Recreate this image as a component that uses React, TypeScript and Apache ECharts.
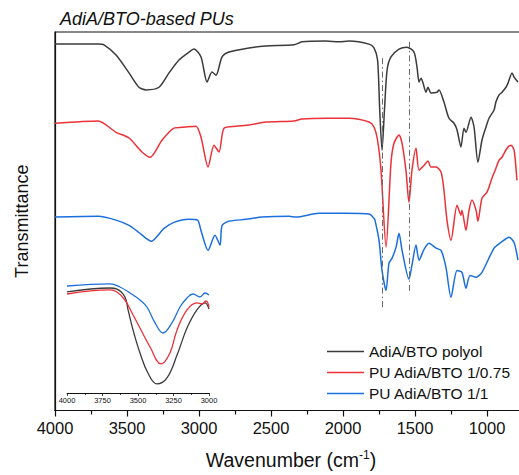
import React, { useEffect, useRef } from "react";
import * as echarts from "echarts";

const chartTitle = "AdiA/BTO-based PUs";
const seriesNames = ["AdiA/BTO polyol", "PU AdiA/BTO 1/0.75", "PU AdiA/BTO 1/1"];
const seriesColors = ["#3b3b3b", "#ec3138", "#1b6fdc"];

// [wavenumber (cm-1), transmittance (a.u., offset)]
const polyol: number[][] = [
  [4000, 96.8], [3700, 96.8], [3660, 96.6], [3576, 93.9], [3486, 89.2], [3417, 85.4], [3368, 84.7],
  [3278, 85.4], [3208, 89.2], [3139, 92.6], [3069, 94.7], [3035, 95.5], [2986, 93.4], [2944, 86.8],
  [2910, 89.4], [2882, 88.6], [2840, 93.4], [2792, 94.7], [2653, 95.8], [2535, 96.3], [2340, 96.6],
  [2285, 97.4], [2118, 97.6], [2028, 97.4], [1958, 97.6], [1819, 96.8], [1785, 95.8], [1760, 92.6],
  [1745, 79.4], [1729, 68.8], [1712, 79.4], [1694, 89.9], [1667, 93.4], [1611, 95.5], [1556, 96.0],
  [1507, 94.7], [1486, 90.7], [1472, 86.8], [1458, 87.8], [1444, 86.5], [1424, 84.1], [1410, 85.4],
  [1389, 83.9], [1347, 84.1], [1333, 84.7], [1299, 81.5], [1264, 77.2], [1229, 75.9], [1208, 74.1],
  [1181, 69.6], [1160, 74.6], [1146, 73.5], [1111, 77.5], [1090, 74.9], [1063, 65.6], [1035, 71.4],
  [1007, 74.9], [986, 77.2], [951, 79.4], [938, 81.5], [917, 83.3], [896, 84.1], [868, 85.4],
  [854, 86.5], [826, 89.2], [812, 88.1], [785, 86.8],
];

const pu075: number[][] = [
  [4000, 75.9], [3700, 76.5], [3576, 73.5], [3486, 72.0], [3396, 68.3], [3340, 66.9], [3257, 71.4],
  [3174, 74.6], [3090, 74.9], [3021, 75.1], [2986, 72.2], [2937, 64.3], [2896, 70.1], [2861, 68.3],
  [2826, 74.6], [2743, 75.1], [2653, 75.4], [2535, 76.2], [2340, 76.5], [2285, 77.0], [2118, 77.2],
  [1958, 77.2], [1819, 76.2], [1785, 74.9], [1760, 71.4], [1736, 63.5], [1701, 43.1], [1667, 65.3],
  [1646, 70.6], [1611, 72.8], [1590, 70.6], [1563, 63.5], [1542, 55.0], [1521, 63.5], [1493, 69.3],
  [1472, 63.5], [1437, 64.8], [1410, 65.9], [1389, 64.3], [1354, 64.3], [1319, 63.0], [1299, 58.2],
  [1278, 50.3], [1250, 45.0], [1208, 54.2], [1181, 51.6], [1174, 52.9], [1146, 47.6], [1125, 52.9],
  [1104, 55.6], [1076, 52.9], [1063, 50.0], [1035, 56.1], [1000, 57.7], [965, 61.4], [938, 64.0],
  [917, 66.1], [896, 66.9], [861, 69.3], [833, 70.1], [812, 68.8], [792, 60.8],
];

const pu1: number[][] = [
  [4000, 51.1], [3700, 51.3], [3576, 50.3], [3486, 48.9], [3420, 47.1], [3368, 45.5], [3333, 44.7],
  [3243, 48.1], [3174, 49.7], [3069, 50.5], [3010, 50.3], [2986, 47.5], [2937, 42.3], [2889, 46.3],
  [2854, 43.7], [2840, 48.9], [2792, 50.0], [2674, 50.5], [2563, 51.1], [2375, 51.3], [2326, 51.1],
  [2167, 52.1], [1979, 52.1], [1819, 51.9], [1785, 50.8], [1778, 50.3], [1750, 45.0], [1729, 37.0],
  [1701, 31.7], [1681, 38.9], [1660, 40.2], [1632, 43.1], [1611, 46.8], [1590, 42.3], [1542, 34.7],
  [1521, 38.4], [1493, 43.7], [1472, 39.7], [1437, 42.6], [1403, 44.2], [1354, 42.9], [1319, 42.3],
  [1285, 37.8], [1250, 29.9], [1208, 37.0], [1174, 36.5], [1146, 32.3], [1118, 35.7], [1076, 35.2],
  [1035, 36.5], [951, 42.9], [903, 44.4], [847, 45.8], [812, 44.4], [785, 39.7],
];

// Inset (4000-3000 cm-1), arbitrary units
const insetPolyol: number[][] = [
  [4000, 89.4], [3697, 92.9], [3648, 92.0], [3592, 85.0], [3570, 73.5], [3535, 55.8], [3486, 35.4],
  [3430, 17.7], [3366, 8.0], [3296, 13.3], [3225, 33.6], [3155, 57.5], [3085, 73.5], [3028, 79.7], [3000, 74.3],
];
const insetPu075: number[][] = [
  [4000, 87.6], [3697, 91.2], [3648, 89.4], [3592, 82.3], [3542, 70.8], [3486, 57.5], [3415, 40.7],
  [3338, 25.7], [3275, 35.4], [3225, 55.8], [3155, 73.5], [3085, 79.7], [3049, 78.8], [3021, 81.4], [3000, 76.1],
];
const insetPu1: number[][] = [
  [4000, 94.7], [3697, 96.5], [3627, 93.8], [3556, 88.5], [3486, 82.3], [3437, 76.1], [3380, 62.0],
  [3324, 53.1], [3261, 62.0], [3204, 76.1], [3155, 84.1], [3113, 87.6], [3063, 85.0], [3028, 88.5], [3000, 86.7],
];

// Dash-dot reference lines: [wavenumber, top, bottom]
const refLines: number[][] = [
  [1729, 93.1, 27.0],
  [1542, 97.4, 31.2],
];

export default function App() {
  const ref = useRef<HTMLDivElement>(null);
  useEffect(() => {
    if (!ref.current) return;
    const chart = echarts.init(ref.current, null, { renderer: "svg" });
    const font = "Liberation Sans, Arial, sans-serif";
    const mainData = [polyol, pu075, pu1];
    const insetData = [insetPolyol, insetPu075, insetPu1];
    const series: any[] = [];
    mainData.forEach((d, i) => {
      series.push({
        name: seriesNames[i],
        type: "line",
        xAxisIndex: 0,
        yAxisIndex: 0,
        data: d,
        showSymbol: false,
        smooth: 0.25,
        lineStyle: { color: seriesColors[i], width: 1.5 },
        itemStyle: { color: seriesColors[i] },
        z: 3,
        markLine:
          i === 0
            ? {
                silent: true,
                symbol: "none",
                label: { show: false },
                lineStyle: { color: "#6a6a6a", width: 1, type: [6, 3, 1.5, 3] },
                data: refLines.map((r) => [{ coord: [r[0], r[1]] }, { coord: [r[0], r[2]] }]),
              }
            : undefined,
      });
    });
    insetData.forEach((d, i) => {
      series.push({
        name: seriesNames[i] + " (inset)",
        type: "line",
        xAxisIndex: 1,
        yAxisIndex: 1,
        data: d,
        showSymbol: false,
        smooth: 0.4,
        lineStyle: { color: seriesColors[i], width: 1.3 },
        z: 4,
      });
    });

    chart.setOption({
      animation: false,
      textStyle: { fontFamily: font },
      title: [
        {
          text: chartTitle,
          left: 55,
          top: 5,
          textStyle: { fontSize: 18, fontStyle: "italic", fontWeight: "normal", color: "#111", fontFamily: font },
        },
        {
          text: "Wavenumber (cm{sup|-1})",
          left: 286,
          textAlign: "center",
          top: 444,
          textStyle: {
            fontSize: 19.5,
            fontWeight: "normal",
            color: "#111",
            fontFamily: font,
            rich: {
              sup: { fontSize: 12, verticalAlign: "top", padding: [0, 0, 10, 0], color: "#111", fontFamily: font },
            },
          },
        },
      ],
      legend: {
        data: seriesNames,
        orient: "vertical",
        left: 327,
        top: 343,
        padding: 0,
        icon: "rect",
        itemWidth: 37,
        itemHeight: 1.5,
        itemGap: 4,
        textStyle: { fontSize: 15.5, color: "#111", fontFamily: font, lineHeight: 17 },
      },
      grid: [
        {
          left: 55, width: 504, top: 32, height: 378.5,
          outerBoundsMode: "none", containLabel: false,
          show: true, borderColor: "#111", borderWidth: 1.2, backgroundColor: "transparent",
        },
        { left: 67, width: 142, top: 280, height: 113, outerBoundsMode: "none", containLabel: false },
      ],
      xAxis: [
        {
          type: "value",
          gridIndex: 0,
          inverse: true,
          min: 500,
          max: 4000,
          interval: 500,
          axisLine: { show: true, lineStyle: { color: "#111", width: 1.2 } },
          axisTick: { show: true, length: 6, lineStyle: { color: "#111", width: 1.2 } },
          minorTick: { show: true, splitNumber: 2, length: 4, lineStyle: { color: "#111", width: 1.2 } },
          splitLine: { show: false },
          axisLabel: {
            fontSize: 16.5, color: "#111", margin: 9, fontFamily: font,
            formatter: (v: number) => (v < 1000 ? "" : String(v)),
          },
        },
        {
          type: "value",
          gridIndex: 1,
          inverse: true,
          min: 3000,
          max: 4000,
          interval: 250,
          axisLine: { show: true, lineStyle: { color: "#111", width: 1 } },
          axisTick: { show: true, length: 3, lineStyle: { color: "#111", width: 0.8 } },
          minorTick: { show: true, splitNumber: 2, length: 2, lineStyle: { color: "#111", width: 0.8 } },
          splitLine: { show: false },
          axisLabel: { fontSize: 7.5, color: "#111", margin: 3, fontFamily: font, formatter: (v: number) => String(v) },
        },
      ],
      yAxis: [
        {
          type: "value",
          gridIndex: 0,
          min: 0,
          max: 100,
          axisLine: { show: true, lineStyle: { color: "#111", width: 1.2 } },
          axisTick: { show: false },
          axisLabel: { show: false },
          splitLine: { show: false },
          name: "Transmittance",
          nameLocation: "middle",
          nameGap: 24,
          nameTextStyle: { fontSize: 18, color: "#111", fontFamily: font },
        },
        {
          type: "value",
          gridIndex: 1,
          min: 0,
          max: 100,
          show: false,
        },
      ],
      series,
    });
    return () => chart.dispose();
  }, []);
  return <div ref={ref} style={{ position: "absolute", left: 0, top: 0, width: 519, height: 475 }} />;
}
